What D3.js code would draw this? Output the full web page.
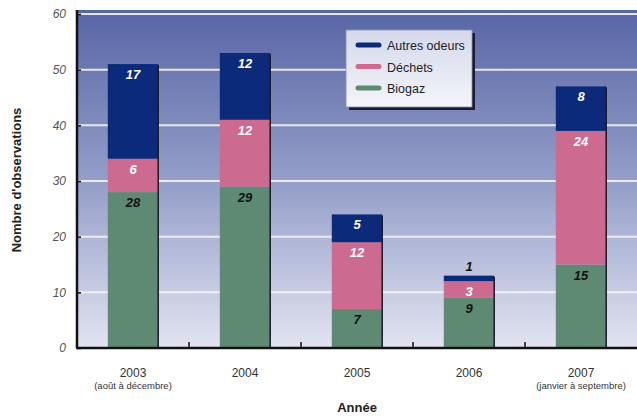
<!DOCTYPE html>
<html>
<head>
<meta charset="utf-8">
<script src="https://cdn.jsdelivr.net/npm/d3@7/dist/d3.min.js"></script>
<style>
  html, body { margin: 0; padding: 0; background: #ffffff; }
  svg { display: block; }
  text { font-family: "Liberation Sans Narrow", "Arial Narrow", "Liberation Sans", Arial, sans-serif; }
</style>
</head>
<body>
<svg id="chart" width="637" height="418"></svg>
<script>
// Observations per year, stacked by type
const years = ["2003", "2004", "2005", "2006", "2007"];
const yearNotes = ["(août à décembre)", "", "", "", "(janvier à septembre)"];
const biogaz = [28, 29, 7, 9, 15];
const dechets = [6, 12, 12, 3, 24];
const autres = [17, 12, 5, 1, 8];
const seriesNames = ["Biogaz", "Déchets", "Autres odeurs"];
const yTicks = [0, 10, 20, 30, 40, 50, 60];

const colors = { "Biogaz": "#5e8a74", "Déchets": "#cd6a8f", "Autres odeurs": "#0b2a7a" };
const labelColors = { "Biogaz": "#111111", "Déchets": "#ffffff", "Autres odeurs": "#ffffff" };

const W = 637, H = 418;
const margin = { left: 77, right: 0, top: 11, bottom: 70 };
const svg = d3.select("#chart");

const x = d3.scaleBand().domain(years).range([margin.left, W - margin.right]).paddingInner(0.55).paddingOuter(0.275);
const y = d3.scaleLinear().domain([0, 60]).range([H - margin.bottom, 14]);

const rows = years.map((yr, i) => ({ year: yr, "Biogaz": biogaz[i], "Déchets": dechets[i], "Autres odeurs": autres[i] }));
const stacked = d3.stack().keys(seriesNames)(rows);

// plot background gradient
const defs = svg.append("defs");
const bg = defs.append("linearGradient").attr("id", "bg").attr("x1", 0).attr("y1", 0).attr("x2", 0).attr("y2", 1);
bg.append("stop").attr("offset", "0%").attr("stop-color", "#5765a5");
bg.append("stop").attr("offset", "55%").attr("stop-color", "#9aa3cc");
bg.append("stop").attr("offset", "100%").attr("stop-color", "#e2e4f0");

const lg = defs.append("linearGradient").attr("id", "lg").attr("x1", 0).attr("y1", 0).attr("x2", 0).attr("y2", 1);
lg.append("stop").attr("offset", "0%").attr("stop-color", "#d4d8ea");
lg.append("stop").attr("offset", "100%").attr("stop-color", "#f4f5fa");

const plotTop = 10;
svg.append("rect")
  .attr("x", margin.left).attr("y", plotTop)
  .attr("width", W - margin.left).attr("height", y(0) - plotTop)
  .attr("fill", "url(#bg)");

// horizontal grid lines
svg.append("g").selectAll("line").data(yTicks.filter(d => d > 0)).join("line")
  .attr("x1", margin.left).attr("x2", W)
  .attr("y1", d => y(d)).attr("y2", d => y(d))
  .attr("stroke", "#f2f3fa").attr("stroke-width", 2).attr("opacity", 0.9);

// stacked bars
const layers = svg.append("g").selectAll("g").data(stacked).join("g")
  .attr("fill", d => colors[d.key]);
layers.selectAll("rect").data(d => d).join("rect")
  .attr("x", d => x(d.data.year))
  .attr("y", d => y(d[1]))
  .attr("width", x.bandwidth())
  .attr("height", d => y(d[0]) - y(d[1]));

// dark edge on the right side of each bar
svg.append("g").selectAll("line").data(rows).join("line")
  .attr("x1", d => x(d.year) + x.bandwidth()).attr("x2", d => x(d.year) + x.bandwidth())
  .attr("y1", d => y(d["Biogaz"] + d["Déchets"] + d["Autres odeurs"]) + 1)
  .attr("y2", y(0))
  .attr("stroke", "#1a1a22").attr("stroke-width", 1.5);

// value labels inside segments
stacked.forEach(layer => {
  svg.append("g").selectAll("text").data(layer).join("text")
    .attr("x", d => x(d.data.year) + x.bandwidth() / 2)
    .attr("y", d => {
      const top = y(d[1]), h = y(d[0]) - y(d[1]);
      return h < 14 ? top - 5 : top + 15;
    })
    .attr("text-anchor", "middle")
    .attr("font-size", 13).attr("font-weight", "bold").attr("font-style", "italic")
    .attr("fill", d => (y(d[0]) - y(d[1]) < 14) ? "#111111" : labelColors[layer.key])
    .text(d => d.data[layer.key]);
});

// y axis
const yAxis = svg.append("g").attr("transform", `translate(${margin.left},0)`)
  .call(d3.axisLeft(y).tickValues(yTicks).tickSize(-4).tickPadding(11));
yAxis.select(".domain").attr("d", `M0,${plotTop}V${y(0)}`).attr("stroke", "#111").attr("stroke-width", 2.5);
yAxis.selectAll(".tick line").attr("stroke", "#111").attr("stroke-width", 1.5);
yAxis.selectAll(".tick text")
  .attr("font-size", 12).attr("font-style", "italic").attr("fill", "#555")
  .attr("font-family", "'Liberation Sans Narrow', 'Arial Narrow', sans-serif");

// x axis line and ticks between categories
svg.append("line").attr("x1", margin.left - 1).attr("x2", W).attr("y1", y(0)).attr("y2", y(0))
  .attr("stroke", "#111").attr("stroke-width", 2.5);
const bounds = years.slice(1).map(yr => x(yr) - x.step() * x.paddingInner() / 2);
svg.append("g").selectAll("line").data(bounds).join("line")
  .attr("x1", d => d).attr("x2", d => d).attr("y1", y(0)).attr("y2", y(0) - 6)
  .attr("stroke", "#111").attr("stroke-width", 1.5);

// category labels
const xl = svg.append("g").selectAll("g").data(years).join("g")
  .attr("transform", d => `translate(${x(d) + x.bandwidth() / 2},0)`);
xl.append("text").attr("y", 377).attr("text-anchor", "middle")
  .attr("font-size", 12).attr("fill", "#333").text(d => d);
xl.append("text").attr("y", 389).attr("text-anchor", "middle")
  .attr("font-size", 9.5).attr("fill", "#333").text((d, i) => yearNotes[i]);

// axis titles
svg.append("text").attr("x", 357).attr("y", 412).attr("text-anchor", "middle")
  .attr("font-size", 13).attr("font-weight", "bold").attr("fill", "#222").text("Année");
svg.append("text").attr("transform", "translate(21,180) rotate(-90)").attr("text-anchor", "middle")
  .attr("font-size", 13).attr("font-weight", "bold").attr("fill", "#222").text("Nombre d'observations");

// legend
const legend = svg.append("g").attr("transform", "translate(346,30)");
legend.append("rect").attr("x", 3).attr("y", 3).attr("width", 126).attr("height", 77).attr("fill", "#1a1d30");
legend.append("rect").attr("width", 126).attr("height", 77).attr("fill", "url(#lg)")
  .attr("stroke", "#8a90b0").attr("stroke-width", 0.8);
const legendOrder = ["Autres odeurs", "Déchets", "Biogaz"];
const li = legend.selectAll("g").data(legendOrder).join("g")
  .attr("transform", (d, i) => `translate(0,${15 + i * 21.5})`);
li.append("line").attr("x1", 12).attr("x2", 33).attr("y1", 0).attr("y2", 0)
  .attr("stroke", d => colors[d]).attr("stroke-width", 5).attr("stroke-linecap", "round");
li.append("text").attr("x", 41).attr("y", 5).attr("font-size", 12.5).attr("fill", "#222").text(d => d);
</script>
</body>
</html>
